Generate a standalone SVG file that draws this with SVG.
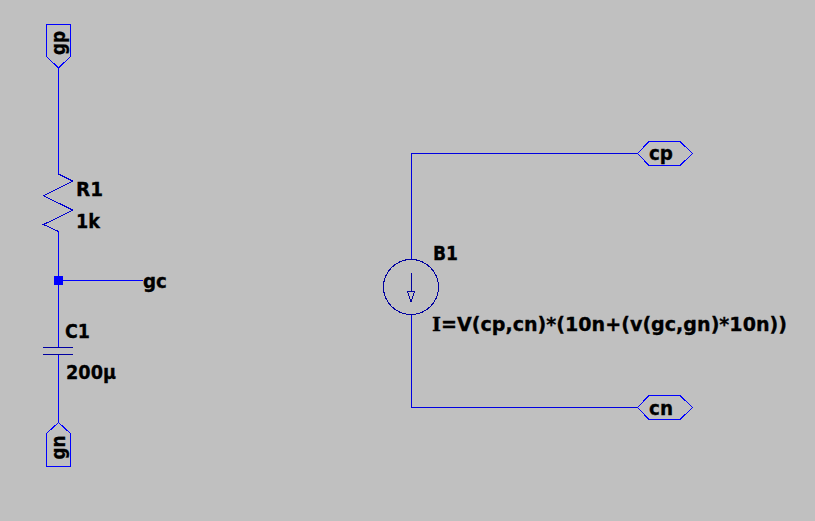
<svg xmlns="http://www.w3.org/2000/svg" width="815" height="521" viewBox="0 0 815 521">
<style>
.w{fill:none;stroke:#0000ff;stroke-width:1;shape-rendering:crispEdges}
.s{fill:none;stroke:#0000ff;stroke-width:1;shape-rendering:crispEdges}
.d{fill:none;stroke:#0000a0;stroke-width:1;shape-rendering:crispEdges}
.t{font-family:"DejaVu Sans",Verdana,sans-serif;font-weight:bold;font-size:19px;fill:#000;stroke:#000;stroke-width:.3}
.i{font-family:"DejaVu Serif",serif}
</style>
<rect width="815" height="521" fill="#c0c0c0"/>
<g id="connectors">
<path class="w" d="M58.5 68V174M58.5 231V347M58.5 354V422M58.5 280.5H143"/>
<path class="w" style="stroke:#0000e0" d="M411.5 260V153.5H638M411.5 314V407.5H638"/>
</g>
<g id="gp"><path class="s" d="M46.5 24.5H70.5V56.5L58.5 68L46.5 56.5Z"/><text class="t" transform="translate(65,55) rotate(-90)" textLength="24" lengthAdjust="spacingAndGlyphs">gp</text></g>
<g id="gn"><path class="s" d="M46.5 466.5H70.5V433.5L58.5 422.5L46.5 433.5Z"/><text class="t" transform="translate(65,459.5) rotate(-90)" textLength="24" lengthAdjust="spacingAndGlyphs">gn</text></g>
<g id="gc"><text class="t" x="143" y="288" textLength="24" lengthAdjust="spacingAndGlyphs">gc</text></g>
<g id="cp"><path class="s" d="M637.5 153.5L649 141.5H680L692.5 153.5L680 165.5H649Z"/><text class="t" x="649" y="160" textLength="24" lengthAdjust="spacingAndGlyphs">cp</text></g>
<g id="cn"><path class="s" d="M637.5 407.5L649 395.5H680L692.5 407.5L680 419.5H649Z"/><text class="t" x="649" y="414.5" textLength="24" lengthAdjust="spacingAndGlyphs">cn</text></g>
<g id="R1"><path class="d" style="stroke:#0000d0" d="M58.5 174L73 181.2L43.5 195.7L73 210.2L43.5 224.5L58.5 231.5"/><text class="t" x="76" y="196" textLength="27" lengthAdjust="spacingAndGlyphs">R1</text><text class="t" x="76" y="228" textLength="24" lengthAdjust="spacingAndGlyphs">1k</text></g>
<g id="J"><rect x="54" y="276" width="9" height="9" fill="#0000ff"/></g>
<g id="C1"><path class="d" d="M43 347.5H73M43 354.5H73"/><text class="t" x="65" y="338" textLength="25" lengthAdjust="spacingAndGlyphs">C1</text><text class="t" x="66" y="379" textLength="50" lengthAdjust="spacingAndGlyphs">200µ</text></g>
<g id="B1"><circle class="d" cx="411" cy="287" r="27.5"/><path class="d" d="M411.5 273V292"/><path class="d" d="M407.5 291.7H414.5L411 301.7Z"/><text class="t" x="433" y="259.5" textLength="25" lengthAdjust="spacingAndGlyphs">B1</text><text class="t" x="432" y="331" textLength="355" lengthAdjust="spacingAndGlyphs"><tspan class="i">I</tspan>=V(cp,cn)*(10n+(v(gc,gn)*10n))</text></g>
</svg>
